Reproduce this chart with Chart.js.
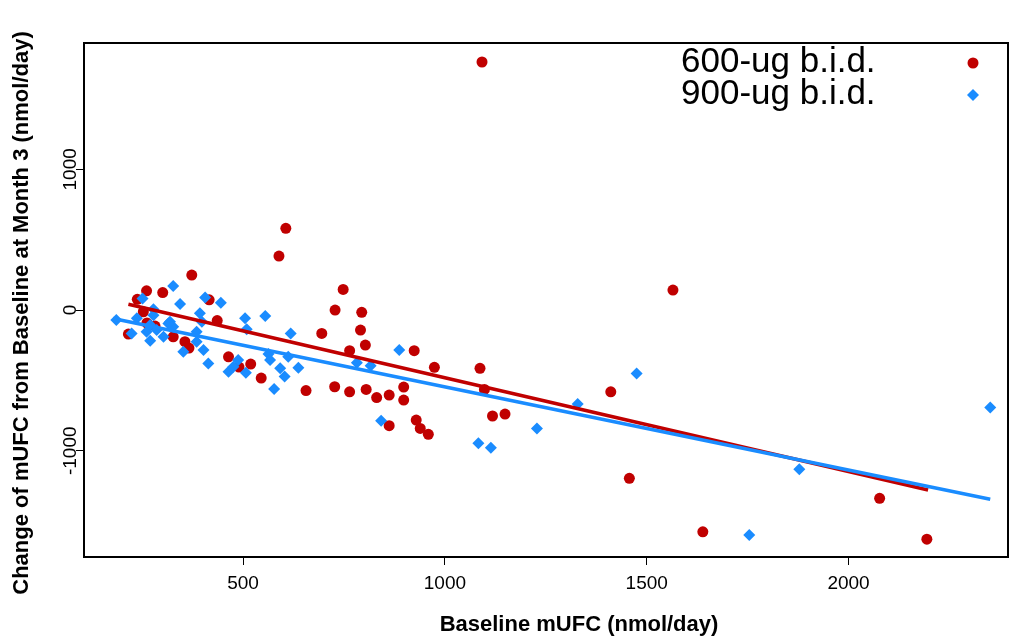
<!DOCTYPE html>
<html>
<head>
<meta charset="utf-8">
<script src="https://cdn.jsdelivr.net/npm/chart.js@4"></script>
<style>
  html, body { margin: 0; padding: 0; background: #fff; }
  #wrap { width: 1018px; height: 638px; }
</style>
</head>
<body>
<div id="wrap"><canvas id="grafico" width="1018" height="638"></canvas></div>
<script>
// Dados: mUFC basal (x) vs variação no mês 3 (y)
const red600X = [1092, 606, 589, 373, 748, 1565, 728, 794, 791, 803, 695, 764, 924, 974, 1087, 1098, 1118, 1149, 1411, 1457,
  1639, 2077, 2194, 656, 727, 764, 805, 831, 862, 898, 898, 862, 929, 939, 959, 416, 436, 464, 490, 519,
  545, 261, 301, 238, 253, 216, 327, 356, 366, 282, 262];
const red600Y = [1763, 581, 384, 249, 147, 142, 0, -16, -142, -249, -166, -289, -289, -407, -414, -564, -753, -739, -581, -1196,
  -1576, -1338, -1628, -572, -545, -581, -564, -622, -604, -547, -640, -822, -782, -841, -883, 73, -75, -332, -405, -384,
  -483, 137, 124, 76, -12, -171, -190, -225, -270, -114, -92];

const blue900X = [186, 327, 251, 406, 445, 344, 278, 237, 393, 278, 319, 327, 286, 261, 224, 270, 385, 385, 402, 352,
  414, 398, 505, 555, 509, 618, 464, 488, 476, 507, 563, 567, 592, 603, 612, 637, 577, 887, 782, 816,
  842, 1083, 1114, 1228, 1329, 1475, 2351, 1878, 1754, 315, 303, 270];
const blue900Y = [-71, 171, 83, 90, 52, 43, 5, -59, -23, -36, -83, -119, -142, -154, -166, -218, -154, -225, -284, -296,
  -379, -83, -59, -43, -137, -166, -438, -355, -403, -446, -313, -355, -414, -473, -332, -410, -561, -284, -375, -396,
  -787, -947, -979, -841, -668, -450, -692, -1132, -1599, -95, -190, -107];

// Retas de regressão (extremos)
const redFitX = [216, 2197];
const redFitY = [41, -1279];
const blueFitX = [178, 2351];
const blueFitY = [-60, -1345];

const xTicks = [500, 1000, 1500, 2000];
const yTicks = [-1000, 0, 1000];
const seriesLabels = ['600-ug b.i.d.', '900-ug b.i.d.'];

const Cores = { red: '#c00000', blue: '#1a8cff' };
const toPts = (xs, ys) => xs.map((x, i) => ({ x: x, y: ys[i] }));

// Moldura, rótulos do eixo y girados, títulos e legenda no estilo R
const estiloR = {
  id: 'estiloR',
  afterDraw(chart) {
    const { ctx, chartArea: a, scales } = chart;
    ctx.save();
    ctx.strokeStyle = '#000';
    ctx.lineWidth = 2;
    ctx.strokeRect(a.left, a.top, a.right - a.left, a.bottom - a.top);

    ctx.fillStyle = '#000';
    ctx.font = '19px "Liberation Sans", Arial, sans-serif';
    ctx.textAlign = 'center';
    ctx.textBaseline = 'middle';
    scales.y.ticks.forEach(t => {
      const py = scales.y.getPixelForValue(t.value);
      ctx.save();
      ctx.translate(71, py);
      ctx.rotate(-Math.PI / 2);
      ctx.fillText(String(t.value), 0, 0);
      ctx.restore();
    });

    ctx.font = 'bold 22px "Liberation Sans", Arial, sans-serif';
    ctx.fillText('Baseline mUFC (nmol/day)', 579, 625);
    ctx.save();
    ctx.translate(22, 313);
    ctx.rotate(-Math.PI / 2);
    ctx.fillText('Change of mUFC from Baseline at Month 3 (nmol/day)', 0, 0);
    ctx.restore();

    // legenda
    ctx.font = '35px "Liberation Sans", Arial, sans-serif';
    ctx.textAlign = 'left';
    ctx.textBaseline = 'alphabetic';
    const itens = [chart.data.datasets[3], chart.data.datasets[2]];
    itens.forEach((ds, i) => {
      ctx.fillStyle = '#000';
      ctx.fillText(seriesLabels[i], 681, 72 + i * 31.5);
      ctx.fillStyle = ds.backgroundColor;
      ctx.strokeStyle = ds.borderColor;
      ctx.lineWidth = 0;
      Chart.helpers.drawPoint(ctx, { pointStyle: ds.pointStyle, radius: i === 0 ? 5.5 : 6, rotation: 0, borderWidth: 0 }, 973, 63 + i * 32);
    });
    ctx.restore();
  }
};

new Chart(document.getElementById('grafico').getContext('2d'), {
  type: 'scatter',
  data: {
    datasets: [{
      label: 'fit 900',
      data: toPts(blueFitX, blueFitY),
      showLine: true, pointRadius: 0, borderColor: Cores.blue, borderWidth: 3.5, order: 0
    }, {
      label: 'fit 600',
      data: toPts(redFitX, redFitY),
      showLine: true, pointRadius: 0, borderColor: Cores.red, borderWidth: 3.5, order: 1
    }, {
      label: seriesLabels[1],
      data: toPts(blue900X, blue900Y),
      pointStyle: 'rectRot', pointRadius: 6, borderWidth: 0,
      backgroundColor: Cores.blue, borderColor: Cores.blue, order: 2
    }, {
      label: seriesLabels[0],
      data: toPts(red600X, red600Y),
      pointStyle: 'circle', pointRadius: 5.5, borderWidth: 0,
      backgroundColor: Cores.red, borderColor: Cores.red, order: 3
    }]
  },
  options: {
    responsive: false, animation: false,
    layout: { padding: { top: 43, right: 10, left: 0, bottom: 0 } },
    plugins: { legend: { display: false }, tooltip: { enabled: false } },
    scales: {
      x: {
        type: 'linear', min: 106, max: 2395,
        afterBuildTicks: (s) => { s.ticks = xTicks.map(v => ({ value: v })); },
        afterFit: (s) => { s.height = 81; },
        grid: { drawOnChartArea: false, drawTicks: true, tickLength: 8, color: '#000', lineWidth: 1 },
        border: { display: false },
        ticks: { autoSkip: false, maxRotation: 0, padding: 7, color: '#000',
          callback: (v) => String(v),
          font: { family: '"Liberation Sans", Arial, sans-serif', size: 19 } }
      },
      y: {
        type: 'linear', min: -1755, max: 1898,
        afterBuildTicks: (s) => { s.ticks = yTicks.map(v => ({ value: v })); },
        afterFit: (s) => { s.width = 84; },
        grid: { drawOnChartArea: false, drawTicks: true, tickLength: 8, color: '#000', lineWidth: 1 },
        border: { display: false },
        ticks: { display: false }
      }
    }
  },
  plugins: [estiloR]
});
</script>
</body>
</html>
